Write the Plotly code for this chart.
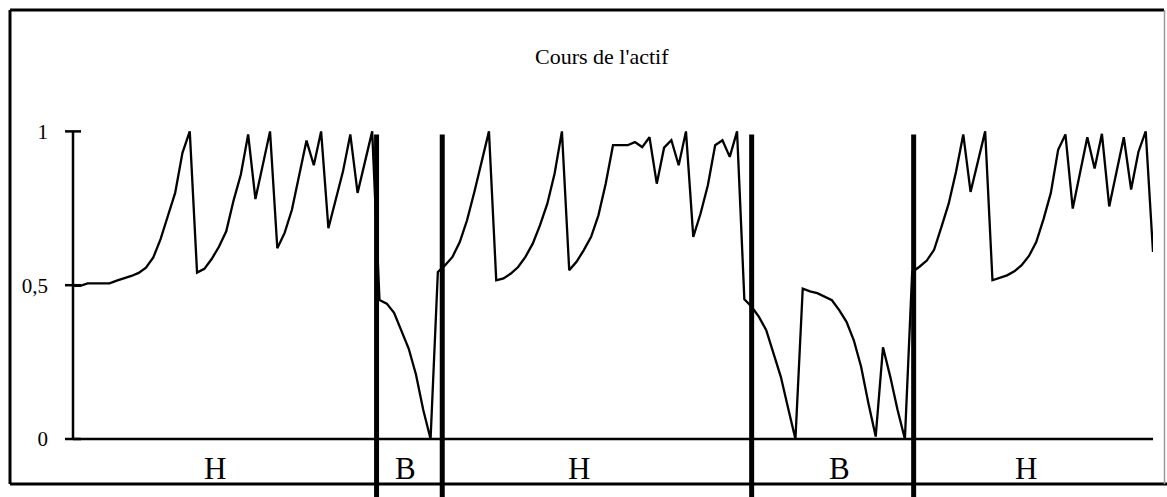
import plotly.graph_objects as go

# ---------------- data ----------------
title_text = "Cours de l'actif"

price = [
    0.498, 0.498, 0.506, 0.506, 0.506, 0.506, 0.515, 0.522, 0.53, 0.54,
    0.557, 0.59, 0.65, 0.725, 0.80, 0.93,
    1.0, 0.541, 0.553, 0.585, 0.625, 0.675, 0.775, 0.86, 0.99, 0.78,
    0.885, 1.0, 0.62, 0.67, 0.745, 0.86, 0.97, 0.89, 1.0, 0.685,
    0.775, 0.87, 0.99, 0.80, 0.90, 1.0,
    0.452, 0.44, 0.41, 0.35, 0.294, 0.21, 0.094, 0.0, 0.543,
    0.565, 0.592, 0.64, 0.711, 0.803, 0.90, 1.0,
    0.516, 0.522, 0.538, 0.559, 0.592, 0.635, 0.695, 0.765, 0.863, 1.0,
    0.549, 0.576, 0.614, 0.657, 0.727, 0.83, 0.955, 0.955, 0.955, 0.965,
    0.949, 0.981, 0.83, 0.947, 0.971, 0.89, 1.0, 0.657, 0.733, 0.825,
    0.955, 0.971, 0.917, 1.0,
    0.454, 0.43, 0.397, 0.354, 0.28, 0.202, 0.10, 0.0, 0.489, 0.48,
    0.474, 0.462, 0.451, 0.419, 0.381, 0.321, 0.235, 0.116, 0.008, 0.298,
    0.202, 0.094, 0.0,
    0.543, 0.56, 0.58, 0.615, 0.689, 0.765, 0.868, 0.99, 0.803, 0.90,
    1.0, 0.516, 0.524, 0.532, 0.545, 0.565, 0.595, 0.64, 0.715, 0.80,
    0.94, 0.99, 0.749, 0.863, 0.981, 0.879, 0.992, 0.756, 0.873, 0.981,
    0.811, 0.933, 1.0, 0.608,
]
periods = list(range(len(price)))

y_tick_values = [0, 0.5, 1]
y_tick_labels = ["0", "0,5", "1"]

regime_names = ["H", "B", "H", "B", "H"]
regime_bounds = [41.6, 50.6, 93.0, 115.2]

# ---------------- layout constants ----------------
regime_label_pos = [19.4, 45.6, 69.3, 105.1, 130.6]

W, H = 1167, 497
ML, MR, MT, MB = 73, 14, 116, 58
PW = W - ML - MR
PH = H - MT - MB
YMAX = 1.05
FONT = "Liberation Serif, Times New Roman, serif"


def px_x(p):
    return (p - ML) / PW


def px_y(p):
    return (H - MB - p) / PH


fig = go.Figure(
    go.Scatter(
        x=periods,
        y=price,
        mode="lines",
        line=dict(color="black", width=2.3),
        hoverinfo="skip",
        showlegend=False,
    )
)

shapes = []
# outer frame
shapes.append(dict(type="line", xref="paper", yref="paper",
                   x0=px_x(10), x1=px_x(1164), y0=px_y(10), y1=px_y(10),
                   line=dict(color="black", width=3)))
shapes.append(dict(type="line", xref="paper", yref="paper",
                   x0=px_x(10), x1=px_x(1167), y0=px_y(484), y1=px_y(484),
                   line=dict(color="black", width=3)))
shapes.append(dict(type="line", xref="paper", yref="paper",
                   x0=px_x(10), x1=px_x(10), y0=px_y(10), y1=px_y(484),
                   line=dict(color="black", width=3)))
shapes.append(dict(type="line", xref="paper", yref="paper",
                   x0=px_x(1164.5), x1=px_x(1164.5), y0=px_y(10), y1=px_y(484),
                   line=dict(color="#9a9a9a", width=1.5)))

# axes
shapes.append(dict(type="line", xref="paper", yref="paper",
                   x0=0, x1=0, y0=0, y1=1 / YMAX,
                   line=dict(color="black", width=2.5)))
shapes.append(dict(type="line", xref="paper", yref="paper",
                   x0=0, x1=1, y0=0, y1=0,
                   line=dict(color="black", width=2.5)))
for v in y_tick_values:
    shapes.append(dict(type="line", xref="paper", yref="paper",
                       xsizemode="pixel", xanchor=0, x0=-8, x1=8,
                       y0=v / YMAX, y1=v / YMAX,
                       line=dict(color="black", width=2.5)))

# regime boundaries
for b in regime_bounds:
    shapes.append(dict(type="line", xref="x", yref="paper",
                       x0=b, x1=b, y0=px_y(505), y1=0.99 / YMAX,
                       line=dict(color="black", width=5)))

annotations = [
    dict(text=title_text, xref="paper", yref="paper",
         x=px_x(601.7), y=px_y(57), xanchor="center", yanchor="middle",
         showarrow=False, font=dict(family=FONT, size=22, color="black"))
]
for name, pos in zip(regime_names, regime_label_pos):
    annotations.append(dict(text=name, xref="x", yref="paper",
                            x=pos, y=px_y(468), xanchor="center", yanchor="middle",
                            showarrow=False,
                            font=dict(family=FONT, size=31, color="black")))

fig.update_layout(
    width=W, height=H,
    margin=dict(l=ML, r=MR, t=MT, b=MB, pad=0),
    paper_bgcolor="white", plot_bgcolor="white",
    shapes=shapes, annotations=annotations,
    xaxis=dict(range=[0, len(price) - 1], showgrid=False, zeroline=False,
               showticklabels=False, showline=False, ticks="", fixedrange=True),
    yaxis=dict(range=[0, YMAX], showgrid=False, zeroline=False, showline=False,
               tickmode="array", tickvals=y_tick_values, ticktext=y_tick_labels,
               ticks="", ticklabelstandoff=24,
               tickfont=dict(family=FONT, size=21, color="black"), fixedrange=True),
    showlegend=False,
)

fig.write_html(
    "out.html",
    config={"displayModeBar": False},
    post_script="document.body.style.margin='0';document.body.style.overflow='hidden';",
)
